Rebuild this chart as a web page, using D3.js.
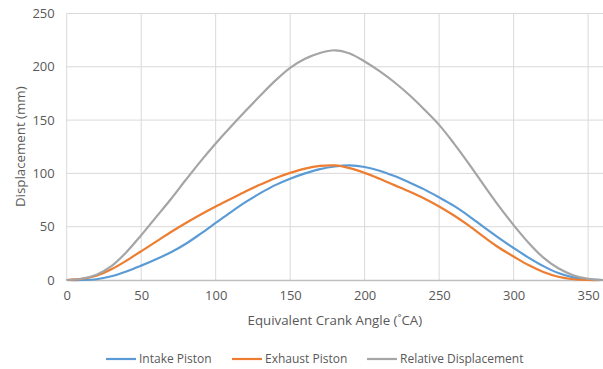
<!DOCTYPE html>
<html>
<head>
<meta charset="utf-8">
<script src="https://cdn.jsdelivr.net/npm/d3@7"></script>
<style>
  body { margin: 0; background: #fff; }
  text { font-family: "Open Sans", "Noto Sans", sans-serif; fill: #595959; }
</style>
</head>
<body>
<div id="chart"></div>
<script>
// Crank angle samples (deg)
const angles = [0, 10, 20, 30, 40, 50, 60, 70, 80, 90, 100, 110, 120, 130, 140, 150, 160, 170, 180,
  190, 200, 210, 220, 230, 240, 250, 260, 270, 280, 290, 300, 310, 320, 330, 340, 350, 360];

// Displacement (mm)
const intake = [0, 0, 0.7, 3.5, 8, 13.5, 19.5, 26, 34, 43.5, 53.5, 63.5, 73, 81.5, 89, 95, 100, 104, 106.5,
  107.5, 106, 102.5, 97.5, 91.5, 85, 77.5, 69.5, 60, 49.5, 39.5, 30, 21, 13, 6.5, 2.5, 0.5, 0];
const exhaust = [0, 1, 4, 10, 18, 27, 36, 45, 53.5, 61.5, 69, 76, 83, 89.5, 95.5, 100.5, 104.5, 107, 107.5,
  105, 100.5, 95, 89, 83, 76.5, 69, 60.5, 51, 40.5, 30.5, 22, 14, 7.5, 3, 0.7, 0, 0];
const relative = [0, 1.2, 5, 13, 26, 42, 59, 76, 94, 111.5, 128, 143.5, 158.5, 173, 187, 199, 207.5, 213, 215.5,
  212.5, 205, 196, 185.5, 173.5, 160, 145.5, 128, 109, 89, 69.5, 51.5, 35, 21, 11, 4.5, 1, 0];

const xTicks = [0, 50, 100, 150, 200, 250, 300, 350];
const yTicks = [0, 50, 100, 150, 200, 250];

const seriesNames = ["Intake Piston", "Exhaust Piston", "Relative Displacement"];
const seriesValues = [intake, exhaust, relative];
const colors = ["#5b9bd5", "#ed7d31", "#a5a5a5"];

const W = 603, H = 369;

const svg = d3.select("#chart")
  .append("svg")
  .attr("width", W)
  .attr("height", H);

const x = d3.scaleLinear().domain([0, 360]).range([66.7, 603]);
const y = d3.scaleLinear().domain([0, 250]).range([280, 13.5]);

// grid
svg.append("g")
  .selectAll("line")
  .data(yTicks.filter(d => d > 0))
  .enter().append("line")
  .attr("x1", x(0)).attr("x2", x(360))
  .attr("y1", d => y(d)).attr("y2", d => y(d))
  .attr("stroke", "#d9d9d9").attr("stroke-width", 1);

svg.append("g")
  .selectAll("line")
  .data(xTicks)
  .enter().append("line")
  .attr("x1", d => x(d)).attr("x2", d => x(d))
  .attr("y1", y(250)).attr("y2", y(0))
  .attr("stroke", "#d9d9d9").attr("stroke-width", 1);

// x axis
const xAxis = svg.append("g")
  .attr("transform", `translate(0,${y(0)})`)
  .call(d3.axisBottom(x).tickValues(xTicks).tickSize(0).tickPadding(11));
xAxis.select(".domain").attr("stroke", "#bfbfbf").attr("stroke-width", 1.3);
xAxis.selectAll("text").style("font-size", "13px").attr("fill", "#595959");

// y axis
const yAxis = svg.append("g")
  .attr("transform", `translate(${x(0)},0)`)
  .call(d3.axisLeft(y).tickValues(yTicks).tickSize(0).tickPadding(12));
yAxis.select(".domain").remove();
yAxis.selectAll("text").style("font-size", "13px").attr("fill", "#595959");

// axis titles
svg.append("text")
  .attr("x", (x(0) + x(360)) / 2)
  .attr("y", 325)
  .attr("text-anchor", "middle")
  .style("font-size", "13.3px")
  .text("Equivalent Crank Angle (˚CA)");

svg.append("text")
  .attr("transform", `translate(25,${(y(0) + y(250)) / 2}) rotate(-90)`)
  .attr("text-anchor", "middle")
  .style("font-size", "13.3px")
  .text("Displacement (mm)");

// lines
const line = d3.line()
  .x(d => x(d[0]))
  .y(d => y(d[1]))
  .curve(d3.curveCatmullRom.alpha(0.5));

seriesValues.forEach((vals, i) => {
  svg.append("path")
    .datum(angles.map((a, j) => [a, vals[j]]))
    .attr("fill", "none")
    .attr("stroke", colors[i])
    .attr("stroke-width", 2.2)
    .attr("d", line);
});

// legend
const legendX = [106, 232, 367];
const lg = svg.append("g").selectAll("g")
  .data(seriesNames)
  .enter().append("g")
  .attr("transform", (d, i) => `translate(${legendX[i]},359)`);
lg.append("line")
  .attr("x1", 0).attr("x2", 30)
  .attr("stroke", (d, i) => colors[i])
  .attr("stroke-width", 2.2);
lg.append("text")
  .attr("x", 33)
  .attr("dy", "0.35em")
  .style("font-size", "12px")
  .text(d => d);
</script>
</body>
</html>
